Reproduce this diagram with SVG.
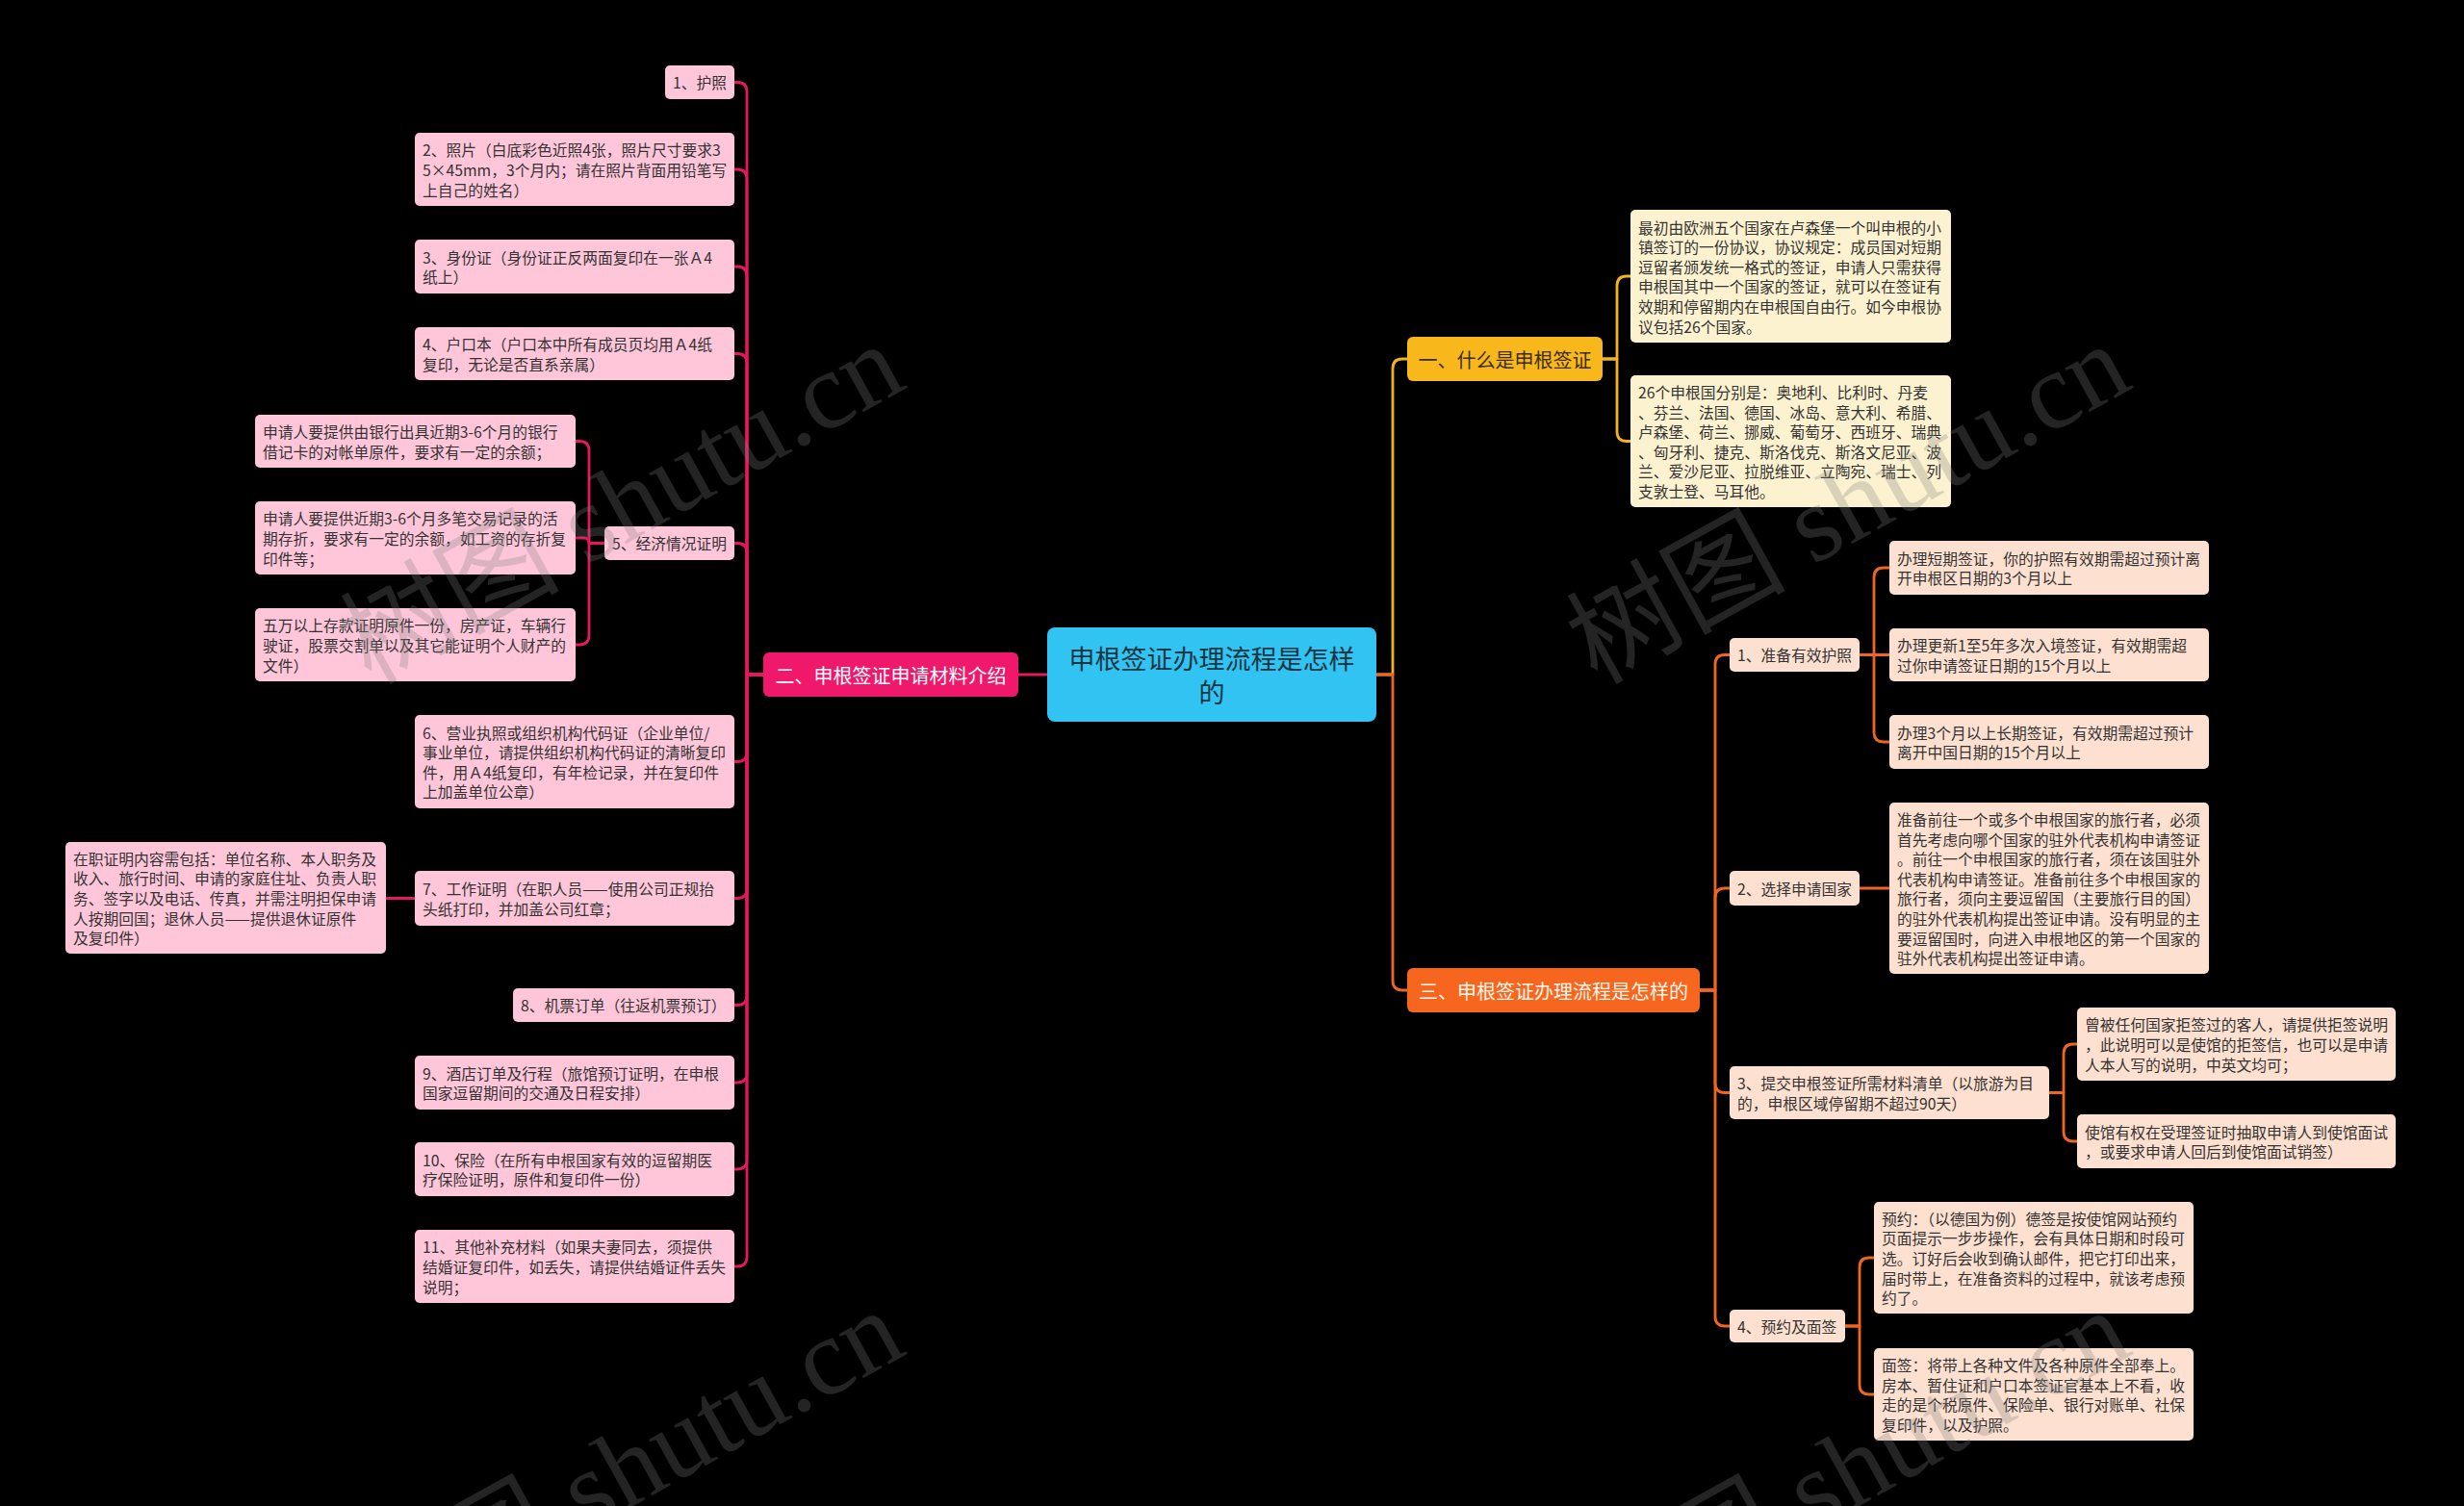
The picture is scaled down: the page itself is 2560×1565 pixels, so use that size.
<svg xmlns="http://www.w3.org/2000/svg" width="2560" height="1565" viewBox="0 0 2560 1565">
<style>
.bg{fill:#000}
.pk{fill:#ffc6da}
.cr{fill:#fdf2cf}
.pe{fill:#fde0cf}
.t{font-family:"Noto Sans CJK SC","Noto Sans",sans-serif;font-size:15.75px;fill:#333;dominant-baseline:central}
.h1{font-family:"Noto Sans CJK SC","Noto Sans",sans-serif;font-size:20px;dominant-baseline:central;text-anchor:middle}
.ctr{font-family:"Noto Sans CJK SC","Noto Sans",sans-serif;font-size:27px;fill:#183542;dominant-baseline:central;text-anchor:middle}
.c{fill:none;stroke-width:2.8;stroke-linecap:round;stroke-linejoin:round}
.cp{stroke:#e3185f}
.cy{stroke:#f2b320}
.co{stroke:#f06522}
.wm{font-family:"Liberation Serif","Noto Sans CJK SC",serif;font-size:114px;fill:#808080;opacity:0.28}
</style>
<rect class="bg" x="0" y="0" width="2560" height="1565"/>

<g id="connectors">
<path class="c cp" d="M1088 701 H1058"/>
<path class="c cp" d="M793 701 H776 V95.5 Q776 85.5 766 85.5 H763"/>
<path class="c cp" d="M793 701 H776 V186 Q776 176 766 176 H763"/>
<path class="c cp" d="M793 701 H776 V287 Q776 277 766 277 H763"/>
<path class="c cp" d="M793 701 H776 V377.5 Q776 367.5 766 367.5 H763"/>
<path class="c cp" d="M793 701 H776 V574.5 Q776 564.5 766 564.5 H763"/>
<path class="c cp" d="M793 701 H776 V781.5 Q776 791.5 766 791.5 H763"/>
<path class="c cp" d="M793 701 H776 V923.5 Q776 933.5 766 933.5 H763"/>
<path class="c cp" d="M793 701 H776 V1034.5 Q776 1044.5 766 1044.5 H763"/>
<path class="c cp" d="M793 701 H776 V1115 Q776 1125 766 1125 H763"/>
<path class="c cp" d="M793 701 H776 V1205 Q776 1215 766 1215 H763"/>
<path class="c cp" d="M793 701 H776 V1306 Q776 1316 766 1316 H763"/>
<path class="c cp" d="M628 564.5 H612 V468.5 Q612 458.5 602 458.5 H598"/>
<path class="c cp" d="M628 564.5 H612 Q612 559 606.5 559 H598"/>
<path class="c cp" d="M628 564.5 H612 V660 Q612 670 602 670 H598"/>
<path class="c cp" d="M431 933.5 H401"/>
<path class="c cy" d="M1430 701 H1447 V383 Q1447 373 1457 373 H1462"/>
<path class="c co" d="M1430 701 H1447 V1019 Q1447 1029 1457 1029 H1462"/>
<path class="c cy" d="M1665 373 H1680 V297 Q1680 287 1690 287 H1694"/>
<path class="c cy" d="M1665 373 H1680 V448.5 Q1680 458.5 1690 458.5 H1694"/>
<path class="c co" d="M1766 1029 H1782 V690.5 Q1782 680.5 1792 680.5 H1797"/>
<path class="c co" d="M1766 1029 H1782 V933 Q1782 923 1792 923 H1797"/>
<path class="c co" d="M1766 1029 H1782 V1125.5 Q1782 1135.5 1792 1135.5 H1797"/>
<path class="c co" d="M1766 1029 H1782 V1368 Q1782 1378 1792 1378 H1797"/>
<path class="c co" d="M1932 680.5 H1947 V600 Q1947 590 1957 590 H1963"/>
<path class="c co" d="M1932 680.5 H1963"/>
<path class="c co" d="M1932 680.5 H1947 V761 Q1947 771 1957 771 H1963"/>
<path class="c co" d="M1932 923 H1963"/>
<path class="c co" d="M2129 1135.5 H2144 V1095 Q2144 1085 2154 1085 H2158"/>
<path class="c co" d="M2129 1135.5 H2144 V1176 Q2144 1186 2154 1186 H2158"/>
<path class="c co" d="M1917 1378 H1932 V1317 Q1932 1307 1942 1307 H1947"/>
<path class="c co" d="M1917 1378 H1932 V1439 Q1932 1449 1942 1449 H1947"/>
</g>

<g id="center">
<rect x="1088" y="652" width="342" height="98" rx="8" fill="#31c4f3"/>
<text class="ctr" x="1259" y="683.5">申根签证办理流程是怎样</text>
<text class="ctr" x="1259" y="718.5">的</text>
</g>

<g id="b2">
<rect x="793" y="678" width="265" height="46" rx="6" fill="#f0186a"/>
<text class="h1" x="925.5" y="701" fill="#ffffff">二、申根签证申请材料介绍</text>
</g>

<g id="L1"><rect class="pk" x="691" y="68" width="72" height="35" rx="5"/>
<text class="t" x="699" y="85.5">1、护照</text></g>
<g id="L2"><rect class="pk" x="431" y="138" width="332" height="76" rx="5"/>
<text class="t" x="439" y="155.4"><tspan x="439">2、照片（白底彩色近照4张，照片尺寸要求3</tspan><tspan x="439" dy="20.6">5×45mm，3个月内；请在照片背面用铅笔写</tspan><tspan x="439" dy="20.6">上自己的姓名）</tspan></text></g>
<g id="L3"><rect class="pk" x="431" y="249" width="332" height="56" rx="5"/>
<text class="t" x="439" y="266.7"><tspan x="439">3、身份证（身份证正反两面复印在一张Ａ4</tspan><tspan x="439" dy="20.6">纸上）</tspan></text></g>
<g id="L4"><rect class="pk" x="431" y="340" width="332" height="55" rx="5"/>
<text class="t" x="439" y="357.2"><tspan x="439">4、户口本（户口本中所有成员页均用Ａ4纸</tspan><tspan x="439" dy="20.6">复印，无论是否直系亲属）</tspan></text></g>
<g id="L5"><rect class="pk" x="628" y="547" width="135" height="35" rx="5"/>
<text class="t" x="636" y="564.5">5、经济情况证明</text></g>
<g id="L5a"><rect class="pk" x="265" y="431" width="333" height="55" rx="5"/>
<text class="t" x="273" y="448.2"><tspan x="273">申请人要提供由银行出具近期3-6个月的银行</tspan><tspan x="273" dy="20.6">借记卡的对帐单原件，要求有一定的余额；</tspan></text></g>
<g id="L5b"><rect class="pk" x="265" y="521" width="333" height="76" rx="5"/>
<text class="t" x="273" y="538.4"><tspan x="273">申请人要提供近期3-6个月多笔交易记录的活</tspan><tspan x="273" dy="20.6">期存折，要求有一定的余额，如工资的存折复</tspan><tspan x="273" dy="20.6">印件等；</tspan></text></g>
<g id="L5c"><rect class="pk" x="265" y="632" width="333" height="76" rx="5"/>
<text class="t" x="273" y="649.4"><tspan x="273">五万以上存款证明原件一份，房产证，车辆行</tspan><tspan x="273" dy="20.6">驶证，股票交割单以及其它能证明个人财产的</tspan><tspan x="273" dy="20.6">文件）</tspan></text></g>
<g id="L6"><rect class="pk" x="431" y="743" width="332" height="97" rx="5"/>
<text class="t" x="439" y="760.6"><tspan x="439">6、营业执照或组织机构代码证（企业单位/</tspan><tspan x="439" dy="20.6">事业单位，请提供组织机构代码证的清晰复印</tspan><tspan x="439" dy="20.6">件，用Ａ4纸复印，有年检记录，并在复印件</tspan><tspan x="439" dy="20.6">上加盖单位公章）</tspan></text></g>
<g id="L7"><rect class="pk" x="431" y="905" width="332" height="57" rx="5"/>
<text class="t" x="439" y="923.2"><tspan x="439">7、工作证明（在职人员——使用公司正规抬</tspan><tspan x="439" dy="20.6">头纸打印，并加盖公司红章；</tspan></text></g>
<g id="L7a"><rect class="pk" x="68" y="875" width="333" height="116" rx="5"/>
<text class="t" x="76" y="891.8"><tspan x="76">在职证明内容需包括：单位名称、本人职务及</tspan><tspan x="76" dy="20.6">收入、旅行时间、申请的家庭住址、负责人职</tspan><tspan x="76" dy="20.6">务、签字以及电话、传真，并需注明担保申请</tspan><tspan x="76" dy="20.6">人按期回国；退休人员——提供退休证原件</tspan><tspan x="76" dy="20.6">及复印件）</tspan></text></g>
<g id="L8"><rect class="pk" x="533" y="1027" width="230" height="35" rx="5"/>
<text class="t" x="541" y="1044.5">8、机票订单（往返机票预订）</text></g>
<g id="L9"><rect class="pk" x="431" y="1097" width="332" height="56" rx="5"/>
<text class="t" x="439" y="1114.7"><tspan x="439">9、酒店订单及行程（旅馆预订证明，在申根</tspan><tspan x="439" dy="20.6">国家逗留期间的交通及日程安排）</tspan></text></g>
<g id="L10"><rect class="pk" x="431" y="1187" width="332" height="56" rx="5"/>
<text class="t" x="439" y="1204.7"><tspan x="439">10、保险（在所有申根国家有效的逗留期医</tspan><tspan x="439" dy="20.6">疗保险证明，原件和复印件一份）</tspan></text></g>
<g id="L11"><rect class="pk" x="431" y="1278" width="332" height="76" rx="5"/>
<text class="t" x="439" y="1295.4"><tspan x="439">11、其他补充材料（如果夫妻同去，须提供</tspan><tspan x="439" dy="20.6">结婚证复印件，如丢失，请提供结婚证件丢失</tspan><tspan x="439" dy="20.6">说明；</tspan></text></g>

<g id="b1">
<rect x="1462" y="350" width="203" height="46" rx="6" fill="#f8b81c"/>
<text class="h1" x="1563.5" y="373" fill="#3a2c0a">一、什么是申根签证</text>
</g>
<g id="b1a"><rect class="cr" x="1694" y="218" width="333" height="138" rx="5"/>
<text class="t" x="1702" y="235.5"><tspan x="1702">最初由欧洲五个国家在卢森堡一个叫申根的小</tspan><tspan x="1702" dy="20.6">镇签订的一份协议，协议规定：成员国对短期</tspan><tspan x="1702" dy="20.6">逗留者颁发统一格式的签证，申请人只需获得</tspan><tspan x="1702" dy="20.6">申根国其中一个国家的签证，就可以在签证有</tspan><tspan x="1702" dy="20.6">效期和停留期内在申根国自由行。如今申根协</tspan><tspan x="1702" dy="20.6">议包括26个国家。</tspan></text></g>
<g id="b1b"><rect class="cr" x="1694" y="390" width="333" height="137" rx="5"/>
<text class="t" x="1702" y="407"><tspan x="1702">26个申根国分别是：奥地利、比利时、丹麦</tspan><tspan x="1702" dy="20.6">、芬兰、法国、德国、冰岛、意大利、希腊、</tspan><tspan x="1702" dy="20.6">卢森堡、荷兰、挪威、葡萄牙、西班牙、瑞典</tspan><tspan x="1702" dy="20.6">、匈牙利、捷克、斯洛伐克、斯洛文尼亚、波</tspan><tspan x="1702" dy="20.6">兰、爱沙尼亚、拉脱维亚、立陶宛、瑞士、列</tspan><tspan x="1702" dy="20.6">支敦士登、马耳他。</tspan></text></g>

<g id="b3">
<rect x="1462" y="1006" width="304" height="46" rx="6" fill="#f6661f"/>
<text class="h1" x="1614" y="1029" fill="#fff6ea">三、申根签证办理流程是怎样的</text>
</g>
<g id="R1"><rect class="pe" x="1797" y="663" width="135" height="35" rx="5"/>
<text class="t" x="1805" y="680.5">1、准备有效护照</text></g>
<g id="R1a"><rect class="pe" x="1963" y="562" width="332" height="56" rx="5"/>
<text class="t" x="1971" y="579.7"><tspan x="1971">办理短期签证，你的护照有效期需超过预计离</tspan><tspan x="1971" dy="20.6">开申根区日期的3个月以上</tspan></text></g>
<g id="R1b"><rect class="pe" x="1963" y="653" width="332" height="55" rx="5"/>
<text class="t" x="1971" y="670.2"><tspan x="1971">办理更新1至5年多次入境签证，有效期需超</tspan><tspan x="1971" dy="20.6">过你申请签证日期的15个月以上</tspan></text></g>
<g id="R1c"><rect class="pe" x="1963" y="743" width="332" height="56" rx="5"/>
<text class="t" x="1971" y="760.7"><tspan x="1971">办理3个月以上长期签证，有效期需超过预计</tspan><tspan x="1971" dy="20.6">离开中国日期的15个月以上</tspan></text></g>
<g id="R2"><rect class="pe" x="1797" y="905" width="135" height="36" rx="5"/>
<text class="t" x="1805" y="923">2、选择申请国家</text></g>
<g id="R2a"><rect class="pe" x="1963" y="834" width="332" height="178" rx="5"/>
<text class="t" x="1971" y="850.9"><tspan x="1971">准备前往一个或多个申根国家的旅行者，必须</tspan><tspan x="1971" dy="20.6">首先考虑向哪个国家的驻外代表机构申请签证</tspan><tspan x="1971" dy="20.6">。前往一个申根国家的旅行者，须在该国驻外</tspan><tspan x="1971" dy="20.6">代表机构申请签证。准备前往多个申根国家的</tspan><tspan x="1971" dy="20.6">旅行者，须向主要逗留国（主要旅行目的国）</tspan><tspan x="1971" dy="20.6">的驻外代表机构提出签证申请。没有明显的主</tspan><tspan x="1971" dy="20.6">要逗留国时，向进入申根地区的第一个国家的</tspan><tspan x="1971" dy="20.6">驻外代表机构提出签证申请。</tspan></text></g>
<g id="R3"><rect class="pe" x="1797" y="1108" width="332" height="55" rx="5"/>
<text class="t" x="1805" y="1125.2"><tspan x="1805">3、提交申根签证所需材料清单（以旅游为目</tspan><tspan x="1805" dy="20.6">的，申根区域停留期不超过90天）</tspan></text></g>
<g id="R3a"><rect class="pe" x="2158" y="1047" width="331" height="76" rx="5"/>
<text class="t" x="2166" y="1064.4"><tspan x="2166">曾被任何国家拒签过的客人，请提供拒签说明</tspan><tspan x="2166" dy="20.6">，此说明可以是使馆的拒签信，也可以是申请</tspan><tspan x="2166" dy="20.6">人本人写的说明，中英文均可；</tspan></text></g>
<g id="R3b"><rect class="pe" x="2158" y="1158" width="331" height="56" rx="5"/>
<text class="t" x="2166" y="1175.7"><tspan x="2166">使馆有权在受理签证时抽取申请人到使馆面试</tspan><tspan x="2166" dy="20.6">，或要求申请人回后到使馆面试销签）</tspan></text></g>
<g id="R4"><rect class="pe" x="1797" y="1361" width="120" height="34" rx="5"/>
<text class="t" x="1805" y="1378">4、预约及面签</text></g>
<g id="R4a"><rect class="pe" x="1947" y="1249" width="332" height="116" rx="5"/>
<text class="t" x="1955" y="1265.8"><tspan x="1955">预约：（以德国为例）德签是按使馆网站预约</tspan><tspan x="1955" dy="20.6">页面提示一步步操作，会有具体日期和时段可</tspan><tspan x="1955" dy="20.6">选。订好后会收到确认邮件，把它打印出来，</tspan><tspan x="1955" dy="20.6">届时带上，在准备资料的过程中，就该考虑预</tspan><tspan x="1955" dy="20.6">约了。</tspan></text></g>
<g id="R4b"><rect class="pe" x="1947" y="1401" width="332" height="96" rx="5"/>
<text class="t" x="1955" y="1418.1"><tspan x="1955">面签：将带上各种文件及各种原件全部奉上。</tspan><tspan x="1955" dy="20.6">房本、暂住证和户口本签证官基本上不看，收</tspan><tspan x="1955" dy="20.6">走的是个税原件、保险单、银行对账单、社保</tspan><tspan x="1955" dy="20.6">复印件，以及护照。</tspan></text></g>

<g id="watermark">
<text class="wm" transform="translate(385 712) rotate(-29)">树图 shutu.cn</text>
<text class="wm" transform="translate(1659 712) rotate(-29)">树图 shutu.cn</text>
<text class="wm" transform="translate(385 1716) rotate(-29)">树图 shutu.cn</text>
<text class="wm" transform="translate(1659 1716) rotate(-29)">树图 shutu.cn</text>
</g>
</svg>
